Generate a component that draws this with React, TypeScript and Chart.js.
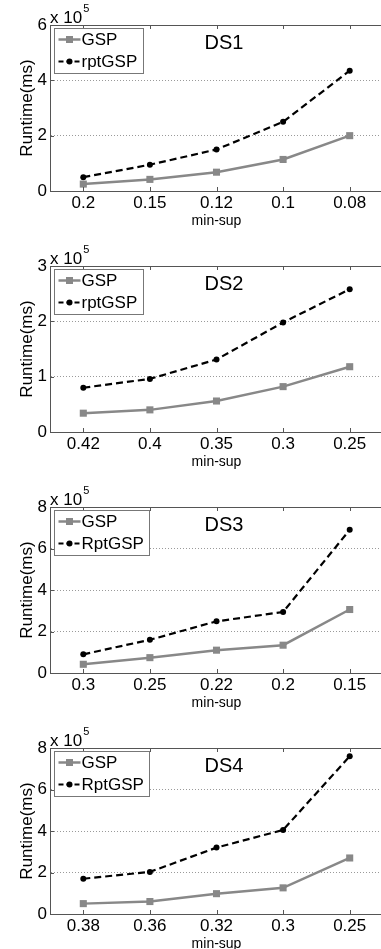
import React, { useEffect, useRef } from 'react';
import { Chart, registerables } from 'chart.js';

Chart.register(...registerables);

// ---- data (runtime in ms) ----
const ds1Labels = ['0.2', '0.15', '0.12', '0.1', '0.08'];
const ds1Gsp = [25000, 42000, 68000, 114000, 200000];
const ds1Rpt = [50000, 95000, 150000, 250000, 435000];
const ds1YMax = 600000;
const ds1YStep = 200000;

const ds2Labels = ['0.42', '0.4', '0.35', '0.3', '0.25'];
const ds2Gsp = [34000, 40000, 56000, 82000, 118000];
const ds2Rpt = [80000, 96000, 131000, 198000, 258000];
const ds2YMax = 300000;
const ds2YStep = 100000;

const ds3Labels = ['0.3', '0.25', '0.22', '0.2', '0.15'];
const ds3Gsp = [42000, 74000, 110000, 134000, 306000];
const ds3Rpt = [90000, 160000, 249000, 294000, 690000];
const ds3YMax = 800000;
const ds3YStep = 200000;

const ds4Labels = ['0.38', '0.36', '0.32', '0.3', '0.25'];
const ds4Gsp = [50000, 60000, 98000, 126000, 270000];
const ds4Rpt = [170000, 203000, 320000, 405000, 760000];
const ds4YMax = 800000;
const ds4YStep = 200000;

const panels = [
  { title: 'DS1', labels: ds1Labels, gsp: ds1Gsp, rpt: ds1Rpt, rptName: 'rptGSP', yMax: ds1YMax, yStep: ds1YStep },
  { title: 'DS2', labels: ds2Labels, gsp: ds2Gsp, rpt: ds2Rpt, rptName: 'rptGSP', yMax: ds2YMax, yStep: ds2YStep },
  { title: 'DS3', labels: ds3Labels, gsp: ds3Gsp, rpt: ds3Rpt, rptName: 'RptGSP', yMax: ds3YMax, yStep: ds3YStep },
  { title: 'DS4', labels: ds4Labels, gsp: ds4Gsp, rpt: ds4Rpt, rptName: 'RptGSP', yMax: ds4YMax, yStep: ds4YStep },
];

const FAMILY = '"Liberation Sans", Arial, Helvetica, sans-serif';
const GRAY = '#888888';
const AXIS = '#555555';
const PANEL_H = 241;
const CANVAS_W = 388;

const decorPlugin = {
  id: 'decor',
  afterDraw(chart: any, _args: any, opts: any) {
    const ctx = chart.ctx as CanvasRenderingContext2D;
    const a = chart.chartArea;
    const xs = chart.scales.x;
    const ys = chart.scales.y;
    ctx.save();
    // top border
    ctx.strokeStyle = AXIS;
    ctx.lineWidth = 1;
    ctx.setLineDash([]);
    ctx.beginPath();
    ctx.moveTo(a.left, Math.round(a.top) + 0.5);
    ctx.lineTo(a.right, Math.round(a.top) + 0.5);
    ctx.stroke();
    // inward tick marks
    ctx.beginPath();
    xs.ticks.forEach((_t: any, i: number) => {
      const x = Math.round(xs.getPixelForTick(i)) + 0.5;
      ctx.moveTo(x, a.bottom);
      ctx.lineTo(x, a.bottom - 4);
      ctx.moveTo(x, a.top);
      ctx.lineTo(x, a.top + 4);
    });
    ys.ticks.forEach((_t: any, i: number) => {
      const y = Math.round(ys.getPixelForTick(i)) + 0.5;
      ctx.moveTo(a.left, y);
      ctx.lineTo(a.left + 4, y);
    });
    ctx.stroke();

    // exponent label
    ctx.fillStyle = '#000';
    ctx.textBaseline = 'middle';
    ctx.textAlign = 'left';
    ctx.font = `17px ${FAMILY}`;
    ctx.fillText('x 10', a.left, a.top - 7);
    const w = ctx.measureText('x 10').width;
    ctx.font = `11px ${FAMILY}`;
    ctx.fillText('5', a.left + w + 1, a.top - 16);

    // title inside plot
    ctx.font = `20px ${FAMILY}`;
    ctx.textAlign = 'center';
    ctx.fillText(opts.title, a.left + 174, a.top + 18);

    // legend
    const names: string[] = chart.data.datasets.map((d: any) => d.label);
    ctx.font = `17px ${FAMILY}`;
    const tw = Math.max(...names.map((n) => ctx.measureText(n).width));
    const bx = Math.round(a.left + 4) + 0.5;
    const by = Math.round(a.top + 3) + 0.5;
    const bw = Math.round(27 + tw + 6);
    const bh = 45;
    ctx.fillStyle = '#fff';
    ctx.fillRect(bx, by, bw, bh);
    ctx.strokeStyle = '#777';
    ctx.lineWidth = 1;
    ctx.strokeRect(bx, by, bw, bh);
    chart.data.datasets.forEach((d: any, i: number) => {
      const yc = by + 11 + i * 22;
      ctx.save();
      ctx.strokeStyle = d.borderColor;
      ctx.lineWidth = d.borderWidth;
      ctx.setLineDash(d.borderDash ? [5, 3] : []);
      ctx.beginPath();
      ctx.moveTo(bx + 4, yc);
      ctx.lineTo(bx + 26, yc);
      ctx.stroke();
      ctx.restore();
      ctx.fillStyle = d.backgroundColor;
      if (d.pointStyle === 'rect') {
        ctx.fillRect(bx + 15 - 3.5, yc - 3.5, 7, 7);
      } else {
        ctx.beginPath();
        ctx.arc(bx + 15, yc, 3, 0, Math.PI * 2);
        ctx.fill();
      }
      ctx.fillStyle = '#000';
      ctx.textAlign = 'left';
      ctx.textBaseline = 'middle';
      ctx.fillText(d.label, bx + 27, yc + 1);
    });
    ctx.restore();
  },
};

function Panel({ cfg, index }: { cfg: any; index: number }) {
  const ref = useRef<HTMLCanvasElement | null>(null);
  useEffect(() => {
    if (!ref.current) return;
    const chart = new Chart(ref.current, {
      type: 'line',
      data: {
        labels: cfg.labels,
        datasets: [
          {
            label: 'GSP',
            data: cfg.gsp,
            borderColor: GRAY,
            backgroundColor: GRAY,
            borderWidth: 2.5,
            pointStyle: 'rect',
            pointRadius: 5,
            pointBorderWidth: 0,
            tension: 0,
          },
          {
            label: cfg.rptName,
            data: cfg.rpt,
            borderColor: '#000',
            backgroundColor: '#000',
            borderWidth: 2.2,
            borderDash: [7, 4],
            pointStyle: 'circle',
            pointRadius: 3,
            pointBorderWidth: 0,
            tension: 0,
          },
        ],
      } as any,
      options: {
        animation: false,
        responsive: false,
        devicePixelRatio: 1,
        layout: { padding: { top: 25, left: 0, right: 2, bottom: 0 } },
        plugins: {
          legend: { display: false },
          tooltip: { enabled: false },
          decor: { title: cfg.title },
        } as any,
        scales: {
          x: {
            type: 'category',
            offset: true,
            grid: { display: false, drawTicks: false },
            border: { display: true, color: AXIS, width: 1 },
            ticks: {
              font: { family: FAMILY, size: 17 },
              color: '#000',
              padding: 2,
              maxRotation: 0,
              autoSkip: false,
            },
            title: {
              display: true,
              text: 'min-sup',
              font: { family: FAMILY, size: 14 },
              color: '#000',
              padding: { top: 0, bottom: 11 },
            },
            afterFit: (s: any) => {
              s.height = 50;
            },
          },
          y: {
            min: 0,
            max: cfg.yMax,
            ticks: {
              stepSize: cfg.yStep,
              callback: (v: any) => String(Math.round(Number(v) / 1e5)),
              font: { family: FAMILY, size: 17 },
              color: '#000',
              padding: 3,
            },
            grid: {
              drawTicks: false,
              lineWidth: 1,
              color: (c: any) =>
                c.tick && (c.tick.value === 0 || c.tick.value === cfg.yMax) ? 'rgba(0,0,0,0)' : '#9a9a9a',
            },
            border: { display: true, color: AXIS, width: 1, dash: [1, 2] },
            title: {
              display: true,
              text: 'Runtime(ms)',
              font: { family: FAMILY, size: 17 },
              color: '#000',
              padding: { top: 17, bottom: 0 },
            },
            afterFit: (s: any) => {
              s.width = 50;
            },
          },
        },
      } as any,
      plugins: [decorPlugin as any],
    });
    return () => chart.destroy();
  }, [cfg, index]);
  return (
    <div style={{ position: 'absolute', left: 0, top: index * PANEL_H, width: CANVAS_W, height: PANEL_H }}>
      <canvas
        ref={ref}
        width={CANVAS_W}
        height={PANEL_H}
        style={{ display: 'block', width: CANVAS_W, height: PANEL_H }}
      />
    </div>
  );
}

export default function App() {
  return (
    <div
      style={{
        position: 'absolute',
        left: 0,
        top: 0,
        width: 381,
        height: 949,
        overflow: 'hidden',
        background: '#fff',
      }}
    >
      {panels.map((p, i) => (
        <Panel key={p.title} cfg={p} index={i} />
      ))}
    </div>
  );
}
